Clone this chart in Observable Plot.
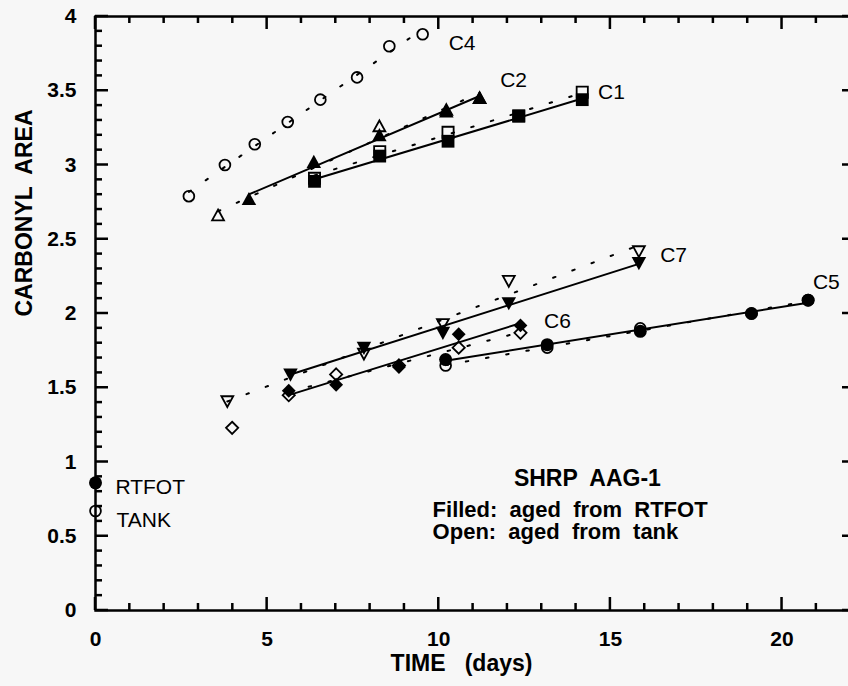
<!DOCTYPE html>
<html><head><meta charset="utf-8">
<script src="https://cdn.jsdelivr.net/npm/d3@7"></script>
<script src="https://cdn.jsdelivr.net/npm/@observablehq/plot@0.6"></script>
<style>
html,body{margin:0;padding:0;background:#f7f7f7;overflow:hidden}
#chart svg{max-width:none !important;display:block}
</style></head><body><div id="chart"></div>
<script>
// ---- data (time in days, carbonyl area) ----
const init_time = [0, 0];
const init_rtfot = [0.86];
const init_tank = [0.67];

const C1_time = [6.38, 8.28, 10.27, 12.33, 14.18];
const C1_rtfot = [2.89, 3.06, 3.16, 3.33, 3.44];
const C1_tank = [2.91, 3.09, 3.22, 3.33, 3.49];

const C2_rtfot_time = [4.47, 6.36, 8.27, 10.22, 11.19];
const C2_rtfot = [2.77, 3.02, 3.20, 3.36, 3.45];
const C2_tank_time = [3.57, 8.27, 10.22, 11.19];
const C2_tank = [2.66, 3.26, 3.37, 3.45];

const C4_time = [2.72, 3.77, 4.64, 5.60, 6.55, 7.62, 8.56, 9.53];
const C4_tank = [2.79, 3.00, 3.14, 3.29, 3.44, 3.59, 3.80, 3.88];

const C5_time = [10.2, 13.16, 15.87, 19.11, 20.76];
const C5_rtfot = [1.69, 1.79, 1.88, 2.00, 2.09];
const C5_tank = [1.65, 1.77, 1.90, 2.00, 2.09];

const C6_rtfot_time = [5.63, 7.01, 8.84, 10.58, 12.38];
const C6_rtfot = [1.48, 1.52, 1.64, 1.86, 1.92];
const C6_tank_time = [3.98, 5.63, 7.01, 8.84, 10.58, 12.38];
const C6_tank = [1.23, 1.45, 1.59, 1.65, 1.77, 1.87];

const C7_rtfot_time = [5.68, 7.82, 10.12, 12.04, 15.83];
const C7_rtfot = [1.59, 1.77, 1.87, 2.07, 2.34];
const C7_tank_time = [3.84, 7.82, 10.12, 12.04, 15.83];
const C7_tank = [1.41, 1.73, 1.93, 2.22, 2.42];

// tick values
const xMajorTicks = [0, 5, 10, 15, 20];
const xMinorTicks = [1,2,3,4,6,7,8,9,11,12,13,14,16,17,18,19,21,22];
const yMajorTicks = [0, 0.5, 1, 1.5, 2, 2.5, 3, 3.5, 4];
const yMinorTicks = d3.range(0, 41).filter(i => i % 5 !== 0).map(i => i / 10);

// curve labels
const curveLabels = [
  {text: "C4", x: 10.68, y: 3.82},
  {text: "C2", x: 12.18, y: 3.57},
  {text: "C1", x: 15.03, y: 3.49},
  {text: "C7", x: 16.84, y: 2.39},
  {text: "C5", x: 21.29, y: 2.21},
  {text: "C6", x: 13.46, y: 1.95}
];
const startLabels = [
  {text: "RTFOT", x: 0.58, y: 0.83},
  {text: "TANK", x: 0.61, y: 0.605}
];

// ---- helpers ----
const rows = (time, vals) => vals.map((v, i) => ({t: time[i], v}));
const R = s => Math.sqrt(s / Math.PI);
const symSquare = {draw(c, s) { const r = R(s); c.rect(-r, -r, 2 * r, 2 * r); }};
const symTriUp = {draw(c, s) { const r = R(s); c.moveTo(0, -r * 1.1); c.lineTo(r * 1.1, r * 0.9); c.lineTo(-r * 1.1, r * 0.9); c.closePath(); }};
const symTriDown = {draw(c, s) { const r = R(s); c.moveTo(0, r * 1.1); c.lineTo(r * 1.1, -r * 0.9); c.lineTo(-r * 1.1, -r * 0.9); c.closePath(); }};
const symDiamond = {draw(c, s) { const r = R(s) * 1.05; c.moveTo(0, -r); c.lineTo(r, 0); c.lineTo(0, r); c.lineTo(-r, 0); c.closePath(); }};
const symCircle = {draw(c, s) { const r = R(s); c.moveTo(r, 0); c.arc(0, 0, r, 0, 2 * Math.PI); }};

const solid = d => Plot.linearRegressionY(d, {x: "t", y: "v", stroke: "black", strokeWidth: 2, ci: 0});
const dotted = d => Plot.linearRegressionY(d, {x: "t", y: "v", stroke: "black", strokeWidth: 2, ci: 0, strokeDasharray: "2.5,18"});
const openPts = (d, symbol, r = 5.6) => Plot.dot(d, {x: "t", y: "v", symbol, r, stroke: "black", strokeWidth: 1.8, fill: "none"});
const filledPts = (d, symbol, r = 6.6) => Plot.dot(d, {x: "t", y: "v", symbol, r, fill: "black", stroke: "none"});

const C1f = rows(C1_time, C1_rtfot), C1o = rows(C1_time, C1_tank);
const C2f = rows(C2_rtfot_time, C2_rtfot), C2o = rows(C2_tank_time, C2_tank);
const C4o = rows(C4_time, C4_tank);
const C5f = rows(C5_time, C5_rtfot), C5o = rows(C5_time, C5_tank);
const C6f = rows(C6_rtfot_time, C6_rtfot), C6o = rows(C6_tank_time, C6_tank);
const C7f = rows(C7_rtfot_time, C7_rtfot), C7o = rows(C7_tank_time, C7_tank);
const initF = rows(init_time, init_rtfot), initO = rows(init_time, init_tank);

const font = "Liberation Sans, Arial, Helvetica, sans-serif";
const XMAX = 22.14, YMAX = 4;
const W = 860, H = 686, ML = 95, MR = 5, MT = 16, MB = 76;
// pixel -> data-unit conversion for tick sizes
const pxX = XMAX / (W - ML - MR), pxY = YMAX / (H - MT - MB);
const TW = 2.5; // tick thickness (px)

// inward ticks as filled bars on each side
const xTicks = (vals, len, top) => Plot.rect(vals, {
  x1: d => d - TW / 2 * pxX, x2: d => d + TW / 2 * pxX,
  y1: () => top ? YMAX - len * pxY : 0, y2: () => top ? YMAX : len * pxY,
  fill: "black"
});
const yTicks = (vals, len, right) => Plot.rect(vals, {
  y1: d => d - TW / 2 * pxY, y2: d => d + TW / 2 * pxY,
  x1: () => right ? XMAX - len * pxX : 0, x2: () => right ? XMAX : len * pxX,
  fill: "black"
});

const chart = Plot.plot({
  width: W, height: H,
  marginLeft: ML, marginRight: MR, marginTop: MT, marginBottom: MB,
  x: {domain: [0, XMAX]},
  y: {domain: [0, YMAX]},
  style: {background: "transparent", fontFamily: font, color: "black", maxWidth: "none", overflow: "visible"},
  marks: [
    // frame and inward ticks on four sides
    Plot.frame({stroke: "black", strokeWidth: 2.5}),
    xTicks(xMinorTicks, 7, false), xTicks(xMajorTicks, 13, false),
    xTicks(xMinorTicks, 7, true), xTicks(xMajorTicks, 13, true),
    yTicks(yMinorTicks, 7, false), yTicks(yMajorTicks, 13, false),
    yTicks(yMinorTicks, 7, true), yTicks(yMajorTicks, 13, true),
    // tick labels
    Plot.axisX(xMajorTicks, {anchor: "bottom", tickSize: 0, tickPadding: 21, label: null, tickFormat: d => String(d), fontSize: 21, fontWeight: "bold"}),
    Plot.axisY(yMajorTicks, {anchor: "left", tickSize: 0, tickPadding: 19, label: null, tickFormat: d => String(d), fontSize: 21, fontWeight: "bold"}),
    // axis titles
    Plot.text(["CARBONYL  AREA"], {frameAnchor: "left", rotate: -90, dx: -71, dy: 3, fontSize: 23, fontWeight: "bold"}),
    Plot.text(["TIME   (days)"], {frameAnchor: "bottom", dy: 60, dx: -14, fontSize: 23, fontWeight: "bold"}),
    // regression lines
    dotted(C4o), dotted(C1o), dotted(C2o), dotted(C5o), dotted(C6o.slice(1)), dotted(C7o),
    solid(C1f), solid(C2f), solid(C5f), solid(C6f), solid(C7f),
    // open points (tank)
    openPts(C4o, symCircle, 5.4), openPts(C1o, symSquare, 5.6), openPts(C2o, symTriUp, 5.4),
    openPts(C5o, symCircle, 5.4), openPts(C6o, symDiamond, 5.8), openPts(C7o, symTriDown, 5.4),
    openPts(initO, symCircle, 5.4),
    // filled points (RTFOT)
    filledPts(C1f, symSquare, 6.4), filledPts(C2f, symTriUp, 6.6), filledPts(C5f, symCircle, 6.5),
    filledPts(C6f, symDiamond, 6.6), filledPts(C7f, symTriDown, 6.6), filledPts(initF, symCircle, 6.5),
    // labels
    Plot.text(curveLabels, {x: "x", y: "y", text: "text", fontSize: 21}),
    Plot.text(startLabels, {x: "x", y: "y", text: "text", fontSize: 21, textAnchor: "start"}),
    Plot.text(["SHRP  AAG-1"], {x: [14.33], y: [0.89], fontSize: 23, fontWeight: "bold"}),
    Plot.text(["Filled:  aged  from  RTFOT\nOpen:  aged  from  tank"], {x: [9.82], y: [0.60], fontSize: 22, lineHeight: 1.0, fontWeight: "bold", textAnchor: "start"})
  ]
});
document.getElementById("chart").append(chart);
</script>
</body></html>
